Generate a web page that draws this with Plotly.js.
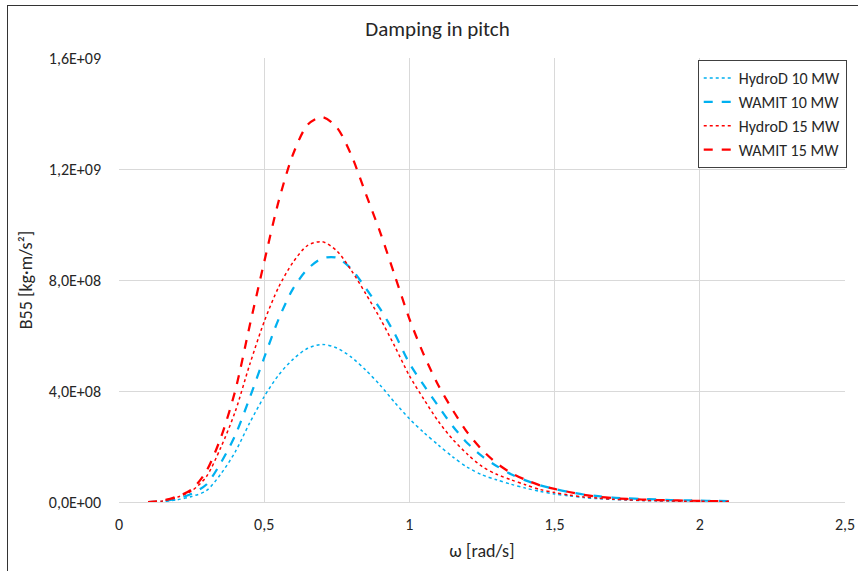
<!DOCTYPE html>
<html>
<head>
<meta charset="utf-8">
<script src="https://cdn.plot.ly/plotly-3.0.1.min.js"></script>
<style>
html,body{margin:0;padding:0;background:#fff;overflow:hidden;}
#chart{position:absolute;left:0;top:0;width:858px;height:571px;}
#frame{position:absolute;left:7px;top:5px;width:900px;height:600px;border-left:1px solid #333;border-top:1px solid #333;pointer-events:none;}
</style>
</head>
<body>
<div id="chart"></div>
<div id="frame"></div>
<script>
const omega = [0.10,0.15,0.20,0.25,0.30,0.35,0.40,0.45,0.50,0.55,0.60,0.65,0.70,0.75,0.80,0.85,0.90,0.95,1.00,1.05,1.10,1.15,1.20,1.25,1.30,1.35,1.40,1.45,1.50,1.55,1.60,1.65,1.70,1.75,1.80,1.85,1.90,1.95,2.00,2.05,2.10];
// values in units of 1e8 kg·m/s²
const hydroD10 = [0.0,0.02,0.08,0.2,0.4,1.0,1.8,2.85,3.8,4.58,5.15,5.54,5.68,5.55,5.22,4.75,4.2,3.58,3.0,2.5,2.05,1.62,1.25,0.98,0.8,0.64,0.5,0.38,0.29,0.22,0.16,0.12,0.09,0.07,0.05,0.04,0.03,0.03,0.02,0.02,0.01];
const wamit10 = [0.0,0.03,0.12,0.3,0.62,1.4,2.4,3.75,5.2,6.6,7.7,8.4,8.78,8.8,8.4,7.7,6.95,6.05,5.0,4.2,3.45,2.72,2.12,1.65,1.3,1.0,0.78,0.6,0.47,0.36,0.27,0.21,0.16,0.13,0.11,0.09,0.07,0.06,0.05,0.04,0.03];
const hydroD15 = [0.0,0.04,0.17,0.4,0.9,1.95,3.25,4.95,6.5,7.75,8.65,9.25,9.38,9.05,8.35,7.5,6.6,5.6,4.55,3.7,2.9,2.25,1.72,1.28,1.0,0.8,0.62,0.45,0.34,0.25,0.18,0.14,0.1,0.08,0.06,0.05,0.04,0.03,0.03,0.02,0.02];
const wamit15 = [0.0,0.05,0.2,0.45,1.1,2.3,4.0,6.35,8.65,10.85,12.55,13.6,13.87,13.5,12.5,11.1,9.7,8.15,6.6,5.3,4.2,3.3,2.5,1.88,1.4,1.05,0.8,0.6,0.47,0.36,0.26,0.19,0.14,0.11,0.09,0.07,0.06,0.05,0.04,0.03,0.02];
const scale = 1e8;
const yTickVals = [0, 4e8, 8e8, 1.2e9, 1.6e9];
const yTickText = ["0,0E+00","4,0E+08","8,0E+08","1,2E+09","1,6E+09"];
const xTickVals = [0, 0.5, 1, 1.5, 2, 2.5];
const xTickText = ["0","0,5","1","1,5","2","2,5"];

const BLUE = '#00B0F0', RED = '#FF0000';
const FONT = 'Carlito, Lato, "Open Sans", sans-serif';
const toY = a => a.map(v => v * scale);

const traces = [
  {name:'HydroD 10 MW', y:toY(hydroD10), line:{color:BLUE, width:1.5, dash:'dot', shape:'spline', smoothing:0.8}},
  {name:'WAMIT 10 MW', y:toY(wamit10), line:{color:BLUE, width:2.25, dash:'dash', shape:'spline', smoothing:0.8}},
  {name:'HydroD 15 MW', y:toY(hydroD15), line:{color:RED, width:1.5, dash:'dot', shape:'spline', smoothing:0.8}},
  {name:'WAMIT 15 MW', y:toY(wamit15), line:{color:RED, width:2.25, dash:'dash', shape:'spline', smoothing:0.8}}
].map((t,i) => Object.assign({x:omega, type:'scatter', mode:'lines', legendgroup:'g'+i}, t));

const layout = {
  width:858, height:571,
  margin:{l:119, r:12, t:58, b:69},
  paper_bgcolor:'#fff', plot_bgcolor:'#fff',
  font:{family:FONT, size:16, color:'#262626'},
  title:{text:'Damping in pitch', font:{family:FONT, size:21, color:'#262626'}, x:0.51, xanchor:'center', y:0.95, yanchor:'middle'},
  showlegend:true,
  legend:{x:1.001, xanchor:'right', y:0.995, yanchor:'top', bgcolor:'#fff', bordercolor:'#404040', borderwidth:1,
          font:{family:FONT, size:16, color:'#262626'}, tracegroupgap:7, traceorder:'normal'},
  xaxis:{range:[0,2.5], tickvals:xTickVals, ticktext:xTickText, showgrid:true, gridcolor:'#d9d9d9', gridwidth:1,
         zeroline:false, showline:true, linecolor:'#d9d9d9', ticks:'', ticklabelstandoff:8,
         tickfont:{family:FONT, size:16, color:'#262626'},
         title:{text:'ω [rad/s]', font:{family:FONT, size:18, color:'#262626'}, standoff:11}},
  yaxis:{range:[0,1.6e9], tickvals:yTickVals, ticktext:yTickText, showgrid:true, gridcolor:'#d9d9d9', gridwidth:1,
         zeroline:false, showline:false, ticks:'', ticklabelstandoff:17,
         tickfont:{family:FONT, size:16, color:'#262626'},
         title:{text:'B55 [kg·m/s²]', font:{family:FONT, size:18, color:'#262626'}, standoff:11}}
};

Plotly.newPlot('chart', traces, layout, {displayModeBar:false, staticPlot:true});
</script>
</body>
</html>
